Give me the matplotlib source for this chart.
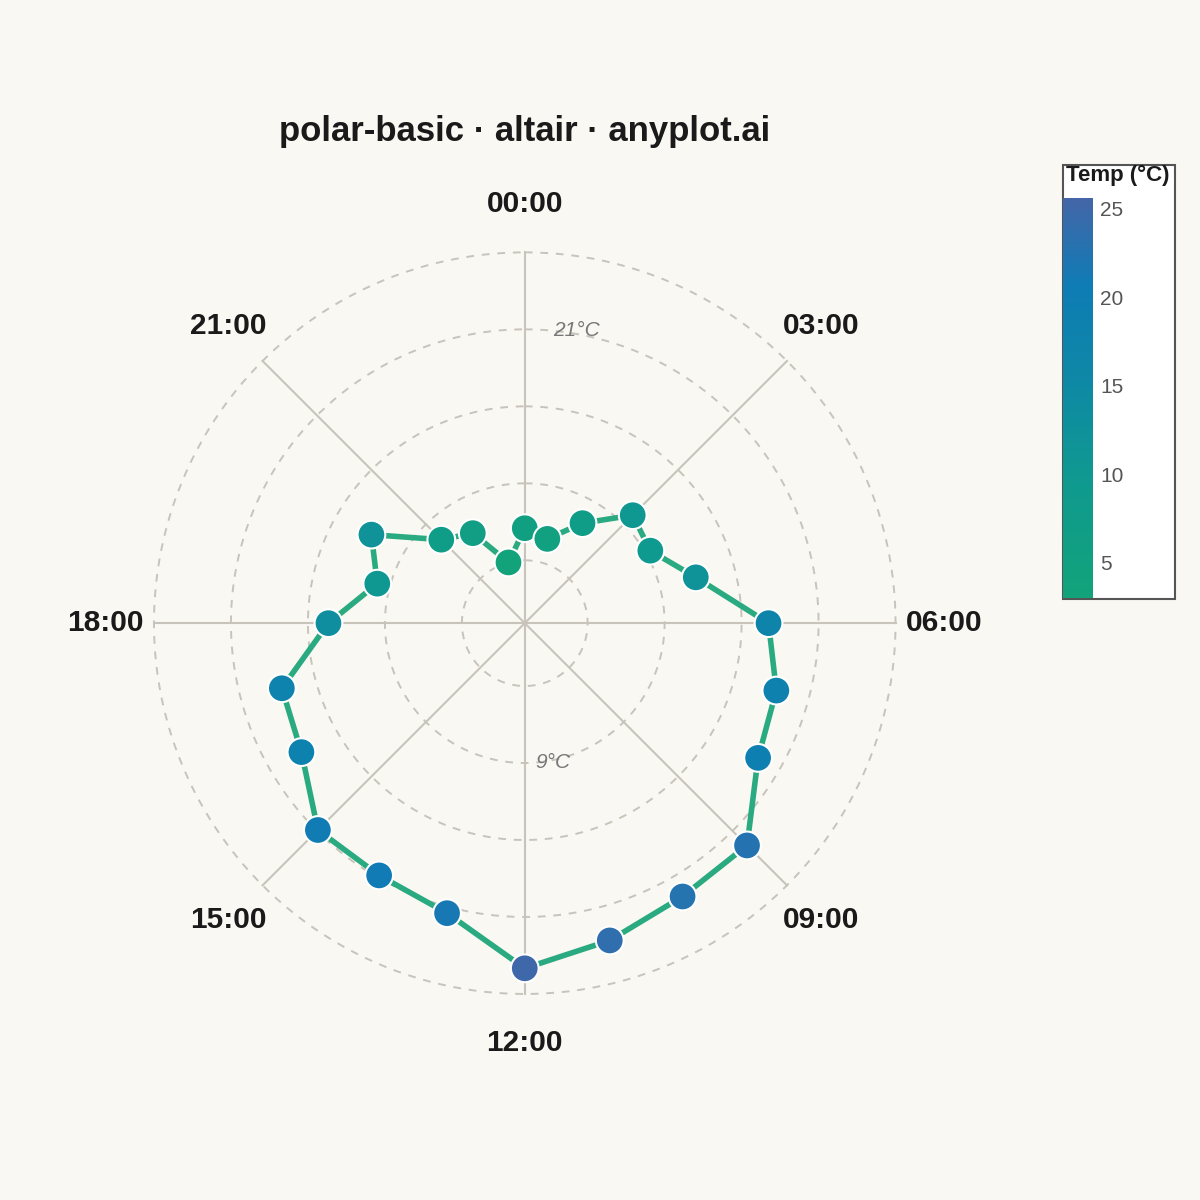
import numpy as np
import matplotlib
matplotlib.use("Agg")
import matplotlib.pyplot as plt
from matplotlib.colors import LinearSegmentedColormap, Normalize
from matplotlib.patches import Rectangle

hours = list(range(24))
temps = [5.5, 4.9, 7.1, 10.0, 9.4, 11.9, 17.1, 18.4, 19.1, 22.6, 22.7, 23.7,
         25.0, 21.5, 20.8, 20.9, 18.2, 17.7, 13.4, 10.0, 11.9, 7.3, 6.2, 3.0]
tick_hours = [0, 3, 6, 9, 12, 15, 18, 21]
tick_labels = ["00:00", "03:00", "06:00", "09:00", "12:00", "15:00", "18:00", "21:00"]
ring_values = [3, 9, 15, 21, 27]

plt.rcParams['font.family'] = ['Liberation Sans', 'DejaVu Sans']
bg = "#faf8f2"
fig = plt.figure(figsize=(12, 12), dpi=100, facecolor=bg)
ax = fig.add_axes([0.1283, 0.1717, 0.618, 0.618], projection='polar')
ax.set_facecolor(bg)
ax.set_theta_zero_location('N')
ax.set_theta_direction(-1)
rmin, rmax = -1.9, 27
ax.set_ylim(rmin, rmax)

cmap = LinearSegmentedColormap.from_list("t", [(0, "#12a37a"), (0.3, "#0f9990"), (0.55, "#0e88a6"),
                                               (0.78, "#0e7cb5"), (1, "#4466a8")])
norm = Normalize(3, 25.6)

theta = np.array(hours) / 24 * 2 * np.pi
th_c = np.append(theta, theta[0])
t_c = np.append(temps, temps[0])
ax.plot(th_c, t_c, color="#2aaa80", lw=4, zorder=3)
ax.scatter(theta, temps, c=temps, cmap=cmap, norm=norm, s=400, edgecolors="white",
           linewidths=1.5, zorder=4)

ax.grid(False)
ax.spines['polar'].set_visible(False)
ax.set_xticks([])
ax.set_yticks([])
tt = np.linspace(0, 2 * np.pi, 400)
for rv in ring_values:
    ax.plot(tt, [rv] * 400, color="#c8c4bc", lw=1.4, ls=(0, (4, 4)), zorder=1, clip_on=False)
for h in tick_hours:
    a = h / 24 * 2 * np.pi
    ax.plot([a, a], [rmin, rmax], color="#c8c4bc", lw=1.5, zorder=1, clip_on=False)
for h, lab in zip(tick_hours, tick_labels):
    a = h / 24 * 2 * np.pi
    ax.text(a, rmax + 3.8, lab, ha='center', va='center', fontsize=21.5, fontweight='bold',
            color="#1a1a1a")
ax.text(np.deg2rad(5.5), 21, "21°C", ha='left', va='center', fontsize=15, style='italic', color="#777777")
ax.text(np.deg2rad(175.5), 9, "9°C", ha='left', va='center', fontsize=15, style='italic', color="#777777")

fig.text(0.4375, 0.89, "polar-basic · altair · anyplot.ai", ha='center', va='center',
         fontsize=25, fontweight='bold', color="#1a1a1a")

fig.patches.append(Rectangle((1063 / 1200, 1 - 599 / 1200), 112 / 1200, 434 / 1200,
                             transform=fig.transFigure, fill=True, facecolor="white",
                             edgecolor="#555555", lw=1.5, zorder=-5))
cax = fig.add_axes([1063 / 1200, 1 - 598 / 1200, 30 / 1200, 400 / 1200])
cax.set_zorder(5)
sm = plt.cm.ScalarMappable(norm=norm, cmap=cmap)
cb = fig.colorbar(sm, cax=cax)
cb.outline.set_visible(False)
cb.set_ticks([5, 10, 15, 20, 25])
cax.tick_params(length=0, labelsize=15, colors="#555555", pad=5)
fig.text(1118 / 1200, 1 - 175 / 1200, "Temp (°C)", ha='center', va='center', fontsize=16,
         fontweight='bold', color="#1a1a1a")

fig.savefig("out.png", dpi=100, facecolor=bg)
